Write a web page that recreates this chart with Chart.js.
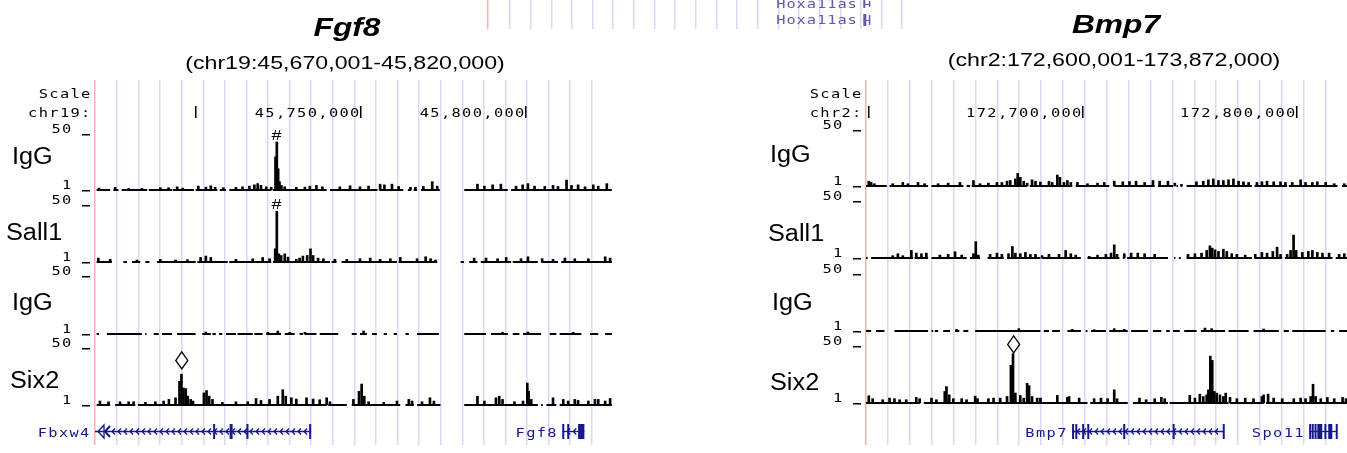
<!DOCTYPE html>
<html>
<head>
<meta charset="utf-8">
<title>Fgf8 / Bmp7 ChIP tracks</title>
<script src="https://cdn.jsdelivr.net/npm/chart.js@4.4.1/dist/chart.umd.min.js"></script>
<style>
  html, body { margin: 0; padding: 0; background: #fff; }
  #wrap { position: relative; width: 1347px; height: 453px; overflow: hidden; background: #fff; }
  #wrap canvas { position: absolute; top: 0; }
  .txt { position: absolute; font-family: Arial, "Liberation Sans", sans-serif; color: #000; white-space: nowrap; line-height: 1; }
  .ttl { font-size: 26px; font-weight: bold; font-style: italic; width: 400px; text-align: center; transform: scaleX(1.22); }
  .sub { font-size: 19px; width: 500px; text-align: center; transform: scaleX(1.22); }
  .lab { font-size: 23px; transform: scaleX(1.1); transform-origin: 0 0; }
</style>
</head>
<body>
<div id="wrap">
  <canvas id="fgf8" width="615" height="453" style="left:0"></canvas>
  <canvas id="bmp7" width="647" height="453" style="left:700px"></canvas>
  <canvas id="hoxa" width="430" height="34" style="left:480px"></canvas>
  <div class="txt ttl" style="left:147px;top:14px">Fgf8</div>
  <div class="txt sub" style="left:95px;top:53px">(chr19:45,670,001-45,820,000)</div>
  <div class="txt ttl" style="left:916px;top:11px">Bmp7</div>
  <div class="txt sub" style="left:864px;top:50px">(chr2:172,600,001-173,872,000)</div>
</div>
<script>
// ===== DATA: Fgf8 locus (chr19, positions in kb) =====
const fgf8TrackNames = ['IgG', 'Sall1', 'IgG', 'Six2'];
const fgf8RulerTicks = [45700, 45750, 45800];
const fgf8RulerLabels = ['', '45,750,000', '45,800,000'];

const fgf8IgGCover = [[45669.9,45674.0],[45675.0,45676.5],[45677.5,45685.2],[45685.7,45692.8],[45693.0,45699.4],[45699.9,45706.5],[45707.2,45709.1],[45710.1,45722.8],[45723.3,45739.6],[45740.6,45755.0],[45755.6,45762.8],[45764.2,45765.2],[45766.0,45767.0],[45768.2,45773.9],[45781.3,45794.5],[45795.5,45826.0]];
const fgf8IgGPeaks = [[45670.6,2.7],[45675.5,3.3],[45679.6,2.4],[45683.6,2.4],[45689.2,3],[45691.7,3],[45694.3,3.8],[45696.0,2.7],[45700.7,4.4],[45703.0,3.5],[45704.5,4.7],[45705.8,3.3],[45708.3,3],[45712.1,3.3],[45714.1,3.8],[45716.2,4.4],[45717.7,5.5],[45718.7,6.6],[45719.7,5],[45721.3,3.8],[45722.8,3.3],[45724.1,30],[45724.5,43],[45724.9,19.6],[45725.3,8.3],[45725.9,5],[45726.9,3.8],[45730.4,3.3],[45733.0,3.5],[45734.5,4.4],[45736.5,5],[45738.3,3.8],[45743.6,3.8],[45746.7,4.7],[45749.7,3.8],[45752.3,4.4],[45755.8,6.1],[45757.1,5.5],[45759.4,6.1],[45761.4,4.1],[45765.0,3.3],[45766.5,3.3],[45768.9,4.1],[45771.6,8.3],[45773.1,4.4],[45785.3,6.1],[45787.4,4.4],[45789.9,5.5],[45792.4,6.1],[45797.0,4.4],[45799.0,5.5],[45800.6,6.6],[45802.6,4.4],[45805.7,4.1],[45808.2,5],[45809.7,4.1],[45812.3,9.7],[45813.8,5],[45815.8,5.5],[45817.9,3.8],[45820.4,5.5],[45821.9,4.4],[45824.5,6.6]];

const fgf8Sall1Cover = [[45669.9,45674.5],[45678.0,45679.1],[45680.6,45683.1],[45684.7,45685.9],[45688.2,45699.9],[45700.4,45709.6],[45710.1,45722.8],[45723.3,45740.6],[45741.1,45742.6],[45744.1,45760.9],[45761.4,45773.1],[45780.2,45781.2],[45782.8,45785.3],[45786.3,45795.5],[45796.0,45803.6],[45804.7,45809.7],[45810.7,45826.0]];
const fgf8Sall1Peaks = [[45670.4,4.4],[45674.0,3.3],[45682.1,2.7],[45689.2,3.3],[45693.8,2.7],[45697.4,3],[45701.4,4.9],[45703.0,6.1],[45704.5,4.9],[45712.1,3.3],[45717.2,3.8],[45720.2,4.9],[45722.3,3.8],[45724.0,12.3],[45724.5,44.7],[45725.1,8],[45725.8,6.6],[45726.9,8],[45727.9,5.2],[45730.4,3.3],[45731.4,4.4],[45732.4,6.1],[45733.7,6.6],[45734.7,12.3],[45735.5,6.6],[45737.0,4.4],[45738.6,3.8],[45742.1,3.3],[45745.7,3.3],[45749.7,3.8],[45752.8,4.4],[45755.8,3.3],[45758.9,3.8],[45761.9,4.9],[45767.0,3.8],[45769.6,5.5],[45771.1,3.8],[45772.6,2.7],[45784.3,4.4],[45787.9,4.4],[45791.4,3.8],[45794.0,4.9],[45798.5,3.8],[45800.6,5.5],[45804.9,3.8],[45808.2,3.3],[45811.8,4.4],[45814.8,3.8],[45818.9,3.8],[45824.0,5.5],[45825.5,4.4]];

const fgf8IgG2Cover = [[45669.9,45670.6],[45673.0,45683.6],[45684.6,45685.0],[45687.2,45688.7],[45689.7,45692.8],[45694.3,45699.9],[45701.9,45704.5],[45705.0,45706.0],[45707.0,45708.0],[45709.1,45712.1],[45712.6,45717.2],[45717.7,45720.2],[45721.3,45725.8],[45726.9,45729.9],[45731.4,45732.4],[45733.0,45736.5],[45737.5,45743.1],[45747.2,45748.7],[45749.7,45751.8],[45753.3,45754.8],[45756.9,45757.9],[45759.9,45760.9],[45763.5,45764.5],[45767.0,45773.6],[45781.3,45787.9],[45789.4,45794.5],[45796.0,45798.0],[45799.1,45804.6],[45807.2,45809.2],[45810.2,45816.8],[45819.4,45821.9],[45824.0,45826.0]];
const fgf8IgG2Peaks = [[45703.0,2.7],[45721.8,2.4],[45724.8,3.5],[45728.4,2.4],[45733.0,2.4],[45750.8,3.5],[45792.9,2.4],[45800.6,2.7],[45814.3,2.4]];

const fgf8Six2Cover = [[45669.9,45674.0],[45675.5,45681.6],[45682.4,45739.6],[45740.1,45745.7],[45747.2,45761.9],[45763.5,45766.0],[45767.0,45774.1],[45781.3,45803.6],[45804.6,45805.1],[45806.2,45809.2],[45810.2,45826.0]];
const fgf8Six2Peaks = [[45670.9,4.4],[45673.5,3.8],[45677.0,3.8],[45679.6,3.8],[45681.1,3.8],[45684.7,3.3],[45687.7,3.8],[45690.2,4.4],[45691.8,5.8],[45693.8,7.2],[45695.0,21.3],[45695.6,27.5],[45696.2,15.6],[45696.9,15.1],[45697.5,8.6],[45698.4,5.8],[45699.1,4.4],[45702.4,11.4],[45703.2,13.4],[45704.0,8.6],[45705.0,5.8],[45708.0,3.3],[45712.1,3.8],[45715.7,3.8],[45718.2,6.6],[45719.7,4.9],[45722.3,5.8],[45724.8,8.6],[45726.3,14.2],[45727.2,8.6],[45728.9,7.2],[45730.4,6.1],[45733.5,7.2],[45735.5,6.1],[45737.5,5.5],[45739.6,7.2],[45740.6,3.8],[45747.7,5.8],[45749.4,12.8],[45750.2,19],[45751.0,8.6],[45752.3,3.8],[45756.9,3.3],[45760.9,4.4],[45764.5,5.8],[45765.5,4.4],[45768.5,3.8],[45770.9,7.2],[45772.1,4.4],[45785.3,8.6],[45787.4,4.4],[45790.9,7.2],[45791.9,8.6],[45792.9,5.8],[45796.5,3.8],[45799.1,4.4],[45800.4,19.9],[45800.8,12.8],[45801.6,5.8],[45808.2,7.2],[45811.3,5.8],[45812.8,4.4],[45814.8,5.8],[45815.8,4.9],[45818.9,4.4],[45820.9,5.8],[45821.9,5.8],[45824.0,4.4],[45825.5,6.6]];

const fgf8Genes = [
  { name: 'Fbxw4', start: 45669.4, end: 45734.9, strand: '-', clipped: true,
    exons: [[45705.2,45705.8],[45710.2,45711.1],[45715.3,45715.8],[45734.3,45734.9]] },
  { name: 'Fgf8', start: 45811.0, end: 45817.7, strand: '-',
    exons: [[45811.0,45811.5],[45812.5,45813.0],[45815.8,45817.7]] }
];
const fgf8Marks = [
  { track: 0, x: 45724.4, y: 45, sym: '#' },
  { track: 1, x: 45724.4, y: 46.6, sym: '#' },
  { track: 3, x: 45695.7, y: 32, sym: 'diamond' }
];

// ===== DATA: Bmp7 locus (chr2, positions in kb) =====
const bmp7TrackNames = ['IgG', 'Sall1', 'IgG', 'Six2'];
const bmp7RulerTicks = [172600, 172700, 172800];
const bmp7RulerLabels = ['', '172,700,000', '172,800,000'];

const bmp7IgGCover = [[172598.6,172608.3],[172609.6,172627.6],[172629.2,172644.1],[172645.6,172647.2],[172648.0,172673.9],[172675.1,172695.0],[172696.6,172712.3],[172714.6,172733.5],[172735.0,172742.1],[172743.7,172744.4],[172745.7,172746.3],[172748.4,172778.9],[172780.2,172795.4],[172796.2,172818.9],[172821.0,172823.4]];
const bmp7IgGPeaks = [[172599.9,5.2],[172601.0,4.1],[172602.5,3],[172611.1,3],[172615.8,4.1],[172618.2,3],[172622.9,4.1],[172626.0,3],[172632.3,3],[172637.0,3.5],[172642.5,4.1],[172648.8,5.8],[172651.9,3],[172655.8,3.5],[172659.8,4.1],[172662.1,4.1],[172664.5,5.2],[172666.0,5.8],[172668.4,7.2],[172669.5,12],[172670.7,8.6],[172672.3,5.2],[172673.9,3.5],[172676.2,6.4],[172677.8,5.2],[172680.1,4.4],[172684.1,5.2],[172685.6,4.1],[172688.0,10.6],[172689.2,8.6],[172691.1,4.1],[172692.7,5.8],[172694.3,4.1],[172697.4,4.1],[172702.1,3],[172706.8,3.5],[172709.9,4.1],[172714.6,5.2],[172718.6,4.7],[172721.7,4.9],[172724.8,5.2],[172728.8,4.1],[172732.7,5.8],[172735.8,5.2],[172739.7,5.2],[172742.9,3.5],[172746.0,2.4],[172753.0,4.7],[172756.2,5.2],[172758.6,6.4],[172760.9,7.2],[172763.3,5.8],[172765.6,5.8],[172768.0,6.4],[172770.3,7.2],[172772.7,5.2],[172775.0,4.7],[172777.4,4.1],[172781.3,4.1],[172783.6,4.7],[172786.0,5.2],[172789.1,4.7],[172792.3,4.7],[172794.6,4.1],[172797.8,4.1],[172801.7,6.4],[172804.0,4.1],[172807.2,4.1],[172809.5,4.7],[172813.4,4.1],[172817.4,3],[172822.1,3]];

const bmp7Sall1Cover = [[172598.6,172599.4],[172601.0,172620.6],[172621.3,172627.6],[172629.2,172645.6],[172647.2,172651.9],[172655.4,172662.9],[172664.5,172680.1],[172680.9,172699.0],[172702.1,172717.0],[172718.6,172719.3],[172720.6,172739.7],[172742.6,172743.2],[172744.8,172745.7],[172748.4,172778.9],[172780.2,172793.1],[172794.3,172816.6],[172818.1,172823.4]];
const bmp7Sall1Peaks = [[172611.1,3],[172613.5,4.7],[172615.8,3],[172619.8,7.5],[172622.1,5.2],[172624.5,4.7],[172626.8,5.2],[172633.1,3.5],[172637.0,4.1],[172640.2,6.4],[172643.3,3.5],[172648.8,4.7],[172649.9,15.1],[172651.1,3.5],[172656.6,4.1],[172659.8,5.2],[172662.1,4.1],[172665.2,4.7],[172667.0,10.9],[172668.4,5.2],[172670.7,4.7],[172673.1,5.8],[172675.4,4.1],[172677.8,4.1],[172680.9,3],[172684.1,4.1],[172688.8,4.1],[172691.9,7.5],[172694.3,4.7],[172696.6,3.5],[172702.9,2.4],[172706.8,3.5],[172710.7,4.1],[172713.1,5.2],[172714.6,12.3],[172715.9,4.1],[172719.3,4.7],[172722.5,5.2],[172725.6,5.2],[172728.8,4.7],[172733.5,4.1],[172749.1,4.1],[172752.3,4.7],[172755.4,5.2],[172757.8,7.5],[172759.3,11.4],[172760.4,9.5],[172761.7,8],[172763.3,6.6],[172765.6,8.6],[172767.2,6.6],[172769.5,4.7],[172771.9,4.1],[172775.8,3.5],[172780.5,4.1],[172783.6,5.8],[172786.0,5.2],[172788.7,6.6],[172790.7,10.3],[172792.3,4.1],[172795.4,4.1],[172797.0,7.5],[172798.4,20.7],[172799.6,7.5],[172802.5,5.8],[172805.3,6.6],[172807.2,7.5],[172809.5,5.8],[172811.9,5.2],[172815.0,5.2],[172819.7,4.1],[172822.1,4.7]];

const bmp7IgG2Cover = [[172598.6,172601.0],[172603.3,172607.2],[172611.9,172627.6],[172629.2,172630.0],[172630.7,172632.3],[172634.7,172637.8],[172640.2,172642.2],[172644.1,172646.4],[172649.6,172680.1],[172681.7,172684.1],[172685.6,172689.2],[172692.7,172699.0],[172701.3,172702.1],[172703.7,172710.7],[172712.3,172720.9],[172722.5,172730.3],[172732.7,172736.6],[172738.9,172740.5],[172742.1,172745.2],[172747.3,172753.1],[172755.1,172766.4],[172768.0,172777.4],[172779.7,172791.5],[172793.8,172796.2],[172797.8,172813.4],[172815.8,172817.4],[172819.7,172823.4]];
const bmp7IgG2Peaks = [[172640.9,2.4],[172670.0,3],[172695.0,2.4],[172705.2,2.1],[172714.6,3],[172719.3,2.4],[172757.0,3.5],[172760.1,3],[172784.4,2.7]];

const bmp7Six2Cover = [[172598.6,172623.7],[172625.6,172702.1],[172703.4,172720.9],[172723.3,172739.7],[172740.5,172768.0],[172768.7,172784.4],[172785.5,172823.4]];
const bmp7Six2Peaks = [[172599.9,7.2],[172601.7,4.7],[172606.4,3.8],[172609.6,5.2],[172611.9,4.7],[172614.3,3.8],[172617.4,3.8],[172622.1,5.8],[172623.7,4.7],[172629.2,5.2],[172631.5,3.8],[172635.4,10.9],[172636.2,15.1],[172637.5,8],[172639.4,4.7],[172643.3,4.7],[172645.6,3.8],[172649.6,6.9],[172650.7,4.7],[172655.8,4.7],[172658.2,5.2],[172661.3,5.2],[172664.5,6.6],[172666.3,33.4],[172667.3,43.3],[172668.4,9.5],[172670.7,7.5],[172672.3,5.2],[172673.9,17.9],[172674.8,15.9],[172676.2,6.6],[172678.6,5.2],[172680.1,5.2],[172688.0,7.5],[172692.7,5.8],[172693.5,6.6],[172698.2,5.2],[172705.2,4.7],[172708.4,5.2],[172711.5,4.7],[172714.6,12.3],[172715.9,4.7],[172726.4,5.2],[172729.5,3.8],[172733.5,4.7],[172736.6,5.8],[172738.2,4.7],[172749.9,7.5],[172752.3,5.2],[172754.6,8.6],[172756.2,6.6],[172757.8,8],[172758.6,12.3],[172759.5,41.3],[172760.4,37.6],[172761.4,10.9],[172762.5,9.5],[172764.0,8],[172765.6,6.6],[172766.7,9.5],[172768.7,5.8],[172771.9,4.7],[172775.8,5.2],[172779.7,4.7],[172783.6,6.6],[172784.4,8],[172786.5,8.6],[172789.1,5.2],[172793.1,4.7],[172798.5,4.7],[172801.7,5.2],[172804.0,4.7],[172806.4,6.6],[172807.5,17.1],[172808.7,6.6],[172811.1,4.7],[172814.2,5.8],[172817.4,4.7],[172821.3,5.8],[172822.9,4.7]];

const bmp7Genes = [
  { name: 'Bmp7', start: 172694.9, end: 172765.8, strand: '-',
    exons: [[172694.9,172695.4],[172696.4,172696.9],[172699.6,172700.1],[172702.0,172702.5],[172718.8,172719.3],[172741.9,172742.4],[172765.3,172765.8]] },
  { name: 'Spo11', start: 172805.7, end: 172818.9, strand: '+',
    exons: [[172805.7,172806.2],[172806.9,172807.4],[172808.2,172808.7],[172809.5,172811.8],[172812.8,172813.3],[172814.6,172816.5],[172818.1,172818.9]] }
];
const bmp7Marks = [{ track: 3, x: 172667.6, y: 44, sym: 'diamond' }];

// cut-off strip of the neighbouring panel (guide-line units)
const hoxaLabels = ['Hoxa11as', 'Hoxa11as'];
const hoxaStart = [18.18, 18.18];
const hoxaEnd = [18.52, 18.52];

// ===== LAYOUT / STYLE =====
const AREA_TOP = 80, AREA_BOTTOM = 445, GENE_Y = 431;
const PINK = '#f3b2b2', GUIDE = '#d8d8fb', NAVY = '#17178e', HOXA = '#5c5ca8';
const MONO = '12px "DejaVu Sans Mono", monospace';
const PITCH = 10.6;

// fixed-pitch text, drawn glyph by glyph (right edge given)
function monoText(ctx, str, xRight, yBase, color, pitch) {
  const p = pitch || PITCH;
  ctx.save();
  ctx.font = MONO;
  ctx.fillStyle = color || '#000';
  ctx.textAlign = 'center';
  ctx.textBaseline = 'alphabetic';
  const n = str.length;
  for (let i = 0; i < n; i++) {
    ctx.save();
    ctx.translate(xRight - (n - i - 0.5) * p, yBase);
    ctx.scale(1.28, 1);
    ctx.fillText(str[i], 0, 0);
    ctx.restore();
  }
  ctx.restore();
}

function guideAxis(min, max, first, step) {
  return {
    type: 'linear', min, max, offset: false,
    ticks: { display: false },
    border: { display: false },
    grid: { offset: false, drawTicks: false, lineWidth: 1.5, color: c => c.index === 0 ? PINK : GUIDE },
    afterBuildTicks: axis => {
      const t = [{ value: min }];
      for (let v = first; v <= max + 1e-9; v += step) t.push({ value: v });
      axis.ticks = t;
    }
  };
}

function trackScales(trackPx) {
  const s = {};
  trackPx.forEach(([top, base], i) => {
    const k = (base - top) / 49;
    s['y' + i] = { type: 'linear', display: false, min: 1 - (AREA_BOTTOM - base) / k, max: 50 + (top - AREA_TOP) / k };
  });
  return s;
}

function coverSet(cover, i) {
  const pts = [];
  cover.forEach(([s, e]) => { pts.push({ x: s, y: 1 }, { x: e, y: 1 }, { x: e, y: null }); });
  return { type: 'line', data: pts, yAxisID: 'y' + i, borderColor: '#000', borderWidth: 2,
           pointRadius: 0, spanGaps: false, tension: 0, fill: false };
}

function peakSet(peaks, i) {
  return { type: 'bar', data: peaks.map(([x, v]) => ({ x, y: [1, v] })), yAxisID: 'y' + i,
           backgroundColor: '#000', borderWidth: 0, barThickness: 2, stack: 'spikes' };
}

function drawGene(ctx, xs, g, area) {
  const y = GENE_Y;
  const x0 = Math.max(xs.getPixelForValue(g.start), area.left);
  const x1 = xs.getPixelForValue(g.end);
  ctx.save();
  ctx.strokeStyle = NAVY; ctx.fillStyle = NAVY; ctx.lineWidth = 1.3;
  ctx.beginPath(); ctx.moveTo(x0, y + 0.5); ctx.lineTo(x1, y + 0.5); ctx.stroke();
  if (g.strand === '-') {
    for (let cx = x0 + (g.clipped ? 18 : 6); cx < x1 - 3; cx += 6) {
      ctx.beginPath(); ctx.moveTo(cx + 2, y - 2.5); ctx.lineTo(cx - 1, y + 0.5); ctx.lineTo(cx + 2, y + 3.5); ctx.stroke();
    }
  }
  if (g.clipped) {
    ctx.beginPath(); ctx.moveTo(x0 + 3, y + 0.5); ctx.lineTo(x0 + 9, y - 6); ctx.lineTo(x0 + 9, y + 7); ctx.closePath(); ctx.stroke();
    ctx.lineWidth = 2;
    ctx.beginPath(); ctx.moveTo(x0 + 15, y - 5); ctx.lineTo(x0 + 10, y + 0.5); ctx.lineTo(x0 + 15, y + 6); ctx.stroke();
  }
  g.exons.forEach(([s, e]) => {
    const a = xs.getPixelForValue(s), b = xs.getPixelForValue(e);
    ctx.fillRect(a, y - 7, Math.max(2, b - a), 15);
  });
  ctx.restore();
  monoText(ctx, g.name, x0 - 5, y + 6, NAVY);
}

function drawMark(ctx, x, y, sym) {
  ctx.save();
  if (sym === 'diamond') {
    ctx.beginPath();
    ctx.moveTo(x, y); ctx.lineTo(x - 6, y - 8.5); ctx.lineTo(x, y - 17); ctx.lineTo(x + 6, y - 8.5); ctx.closePath();
    ctx.fillStyle = '#fff'; ctx.fill();
    ctx.lineWidth = 1.3; ctx.strokeStyle = '#000'; ctx.stroke();
  } else {
    ctx.translate(x, y); ctx.scale(1.2, 1);
    ctx.font = '15px Arial, "Liberation Sans", sans-serif';
    ctx.fillStyle = '#000'; ctx.textAlign = 'center'; ctx.textBaseline = 'alphabetic';
    ctx.fillText(sym, 0, 0);
  }
  ctx.restore();
}

function decor(p) {
  return {
    id: 'decor',
    afterDatasetsDraw(chart) {
      const ctx = chart.ctx, xs = chart.scales.x, area = chart.chartArea;
      const edge = area.left - 4;   // right edge of the left-hand labels
      monoText(ctx, 'Scale', edge, 98);
      monoText(ctx, p.chrom + ':', edge, 117);
      ctx.save();
      ctx.fillStyle = '#000';
      p.rulerTicks.forEach((t, j) => {
        const px = Math.round(xs.getPixelForValue(t));
        ctx.fillRect(px - 1, 106, 1.5, 12);
        if (p.rulerLabels[j]) monoText(ctx, p.rulerLabels[j], px - 1, 117);
      });
      p.trackPx.forEach((tp, i) => {
        const ys = chart.scales['y' + i];
        [[50, '50'], [1, '1']].forEach(([v, s]) => {
          const py = Math.round(ys.getPixelForValue(v));
          monoText(ctx, s, edge - 19, py - 1);
          ctx.fillRect(edge - 9, py, 8, 1.5);
        });
      });
      ctx.restore();
      p.marks.forEach(m => {
        drawMark(ctx, xs.getPixelForValue(m.x), chart.scales['y' + m.track].getPixelForValue(m.y), m.sym);
      });
      p.genes.forEach(g => drawGene(ctx, xs, g, area));
    }
  };
}

function makePanel(id, p) {
  const datasets = [];
  p.covers.forEach((c, i) => datasets.push(coverSet(c, i)));
  p.peaks.forEach((c, i) => datasets.push(peakSet(c, i)));
  return new Chart(document.getElementById(id), {
    type: 'bar',
    data: { datasets },
    options: {
      responsive: false, animation: false, events: [], devicePixelRatio: 1,
      layout: { padding: p.padding },
      plugins: { legend: { display: false }, tooltip: { enabled: false } },
      scales: Object.assign({ x: guideAxis(p.xMin, p.xMax, p.guideFirst, p.guideStep) }, trackScales(p.trackPx))
    },
    plugins: [decor(p)]
  });
}

function addLabels(names, pos) {
  const wrap = document.getElementById('wrap');
  names.forEach((n, i) => {
    const d = document.createElement('div');
    d.className = 'txt lab';
    d.textContent = n;
    d.style.left = pos[i][0] + 'px';
    d.style.top = (pos[i][1] - 0.8465 * 23) + 'px';
    wrap.appendChild(d);
  });
}

makePanel('fgf8', {
  chrom: 'chr19',
  xMin: 45669.4, xMax: 45826.07, guideFirst: 45676.07, guideStep: 6.54,
  padding: { left: 95, right: 3, top: AREA_TOP, bottom: 453 - AREA_BOTTOM },
  trackPx: [[134, 190], [205, 262], [276, 334], [348, 405]],
  covers: [fgf8IgGCover, fgf8Sall1Cover, fgf8IgG2Cover, fgf8Six2Cover],
  peaks: [fgf8IgGPeaks, fgf8Sall1Peaks, fgf8IgG2Peaks, fgf8Six2Peaks],
  rulerTicks: fgf8RulerTicks, rulerLabels: fgf8RulerLabels,
  genes: fgf8Genes, marks: fgf8Marks
});

makePanel('bmp7', {
  chrom: 'chr2',
  xMin: 172598.6, xMax: 172823.37, guideFirst: 172608.8, guideStep: 10.23,
  padding: { left: 166, right: 0, top: AREA_TOP, bottom: 453 - AREA_BOTTOM },
  trackPx: [[130, 186], [201, 258], [274, 331], [346, 403]],
  covers: [bmp7IgGCover, bmp7Sall1Cover, bmp7IgG2Cover, bmp7Six2Cover],
  peaks: [bmp7IgGPeaks, bmp7Sall1Peaks, bmp7IgG2Peaks, bmp7Six2Peaks],
  rulerTicks: bmp7RulerTicks, rulerLabels: bmp7RulerLabels,
  genes: bmp7Genes, marks: bmp7Marks
});

new Chart(document.getElementById('hoxa'), {
  type: 'bar',
  data: { datasets: [] },
  options: {
    responsive: false, animation: false, events: [], devicePixelRatio: 1,
    layout: { padding: { left: 8, right: 5, top: 0, bottom: 5 } },
    plugins: { legend: { display: false }, tooltip: { enabled: false } },
    scales: { x: guideAxis(0, 20.2, 1.066, 1), y: { display: false } }
  },
  plugins: [{
    id: 'hoxaRows',
    afterDraw(chart) {
      const ctx = chart.ctx, xs = chart.scales.x;
      const rows = [[8, 0, 8], [24, 14, 26]];
      hoxaLabels.forEach((n, i) => {
        const a = xs.getPixelForValue(hoxaStart[i]), b = xs.getPixelForValue(hoxaEnd[i]);
        monoText(ctx, n, a - 6, rows[i][0], HOXA, 10.2);
        ctx.save();
        ctx.fillStyle = HOXA;
        ctx.fillRect(a, rows[i][1], i ? 3 : 2, rows[i][2] - rows[i][1]);
        ctx.fillRect(b - 1.5, rows[i][1] + 1, 1.5, rows[i][2] - rows[i][1] - 2);
        ctx.fillRect(a, (rows[i][1] + rows[i][2]) / 2, b - a, 1);
        ctx.restore();
      });
    }
  }]
});

addLabels(fgf8TrackNames, [[12, 164], [6, 240], [12, 310], [10, 388]]);
addLabels(bmp7TrackNames, [[770, 162], [768, 241], [772, 310], [770, 390]]);
</script>
</body>
</html>
